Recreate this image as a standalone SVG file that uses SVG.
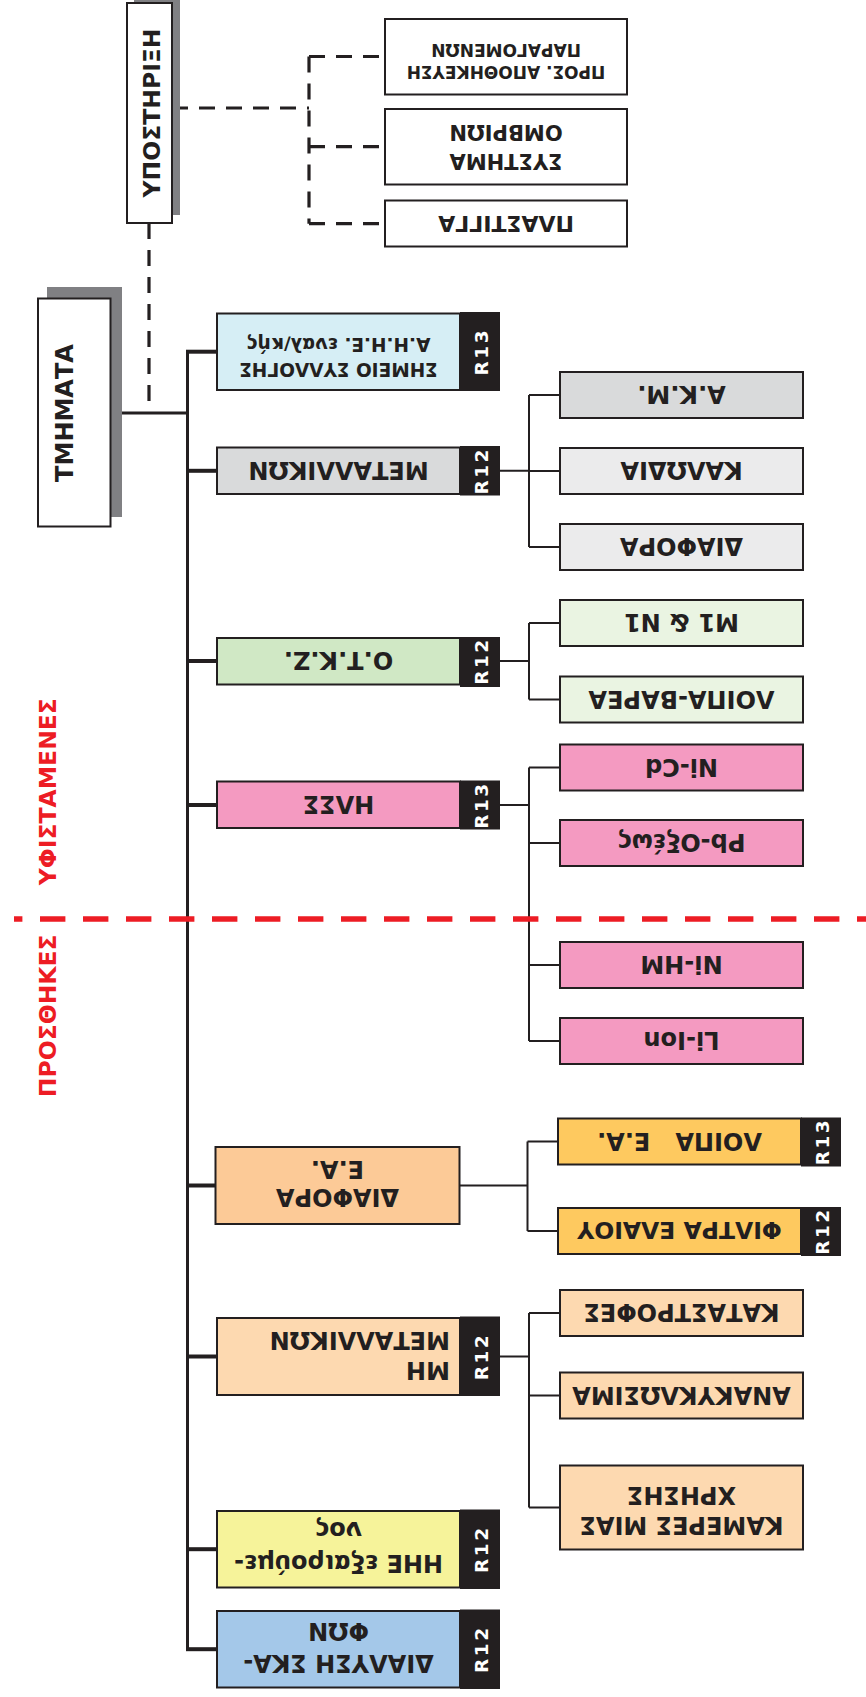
<svg xmlns="http://www.w3.org/2000/svg" width="866" height="1697" viewBox="0 0 866 1697">
<style>
.bx{stroke:#231f20;stroke-width:2}
.tab{fill:#231f20}
.shadow{fill:#808083}
.t{font-family:"DejaVu Sans","Liberation Sans",sans-serif;font-weight:bold;fill:#231f20;text-anchor:middle}
.tt{font-family:"DejaVu Sans","Liberation Sans",sans-serif;font-weight:bold;fill:#ffffff;text-anchor:middle;font-size:18.5px;letter-spacing:2.5px}
.f24{font-size:24px}
.ln{stroke:#231f20;fill:none}
.dash{stroke:#231f20;stroke-width:3.2;stroke-dasharray:16 11;fill:none}
</style>
<rect width="866" height="1697" fill="#ffffff"/>

<g id="connectors">
  <line class="dash" x1="172" y1="108" x2="309" y2="108"/>
  <line class="dash" x1="309" y1="56.5" x2="309" y2="223.7"/>
  <line class="dash" x1="309" y1="56.5" x2="385" y2="56.5"/>
  <line class="dash" x1="309" y1="146.7" x2="385" y2="146.7"/>
  <line class="dash" x1="309" y1="223.7" x2="385" y2="223.7"/>
  <line class="dash" x1="149" y1="223" x2="149" y2="413"/>
  <line class="ln" stroke-width="3" x1="110.5" y1="413" x2="187.5" y2="413"/>
  <line class="ln" stroke-width="3" x1="187.5" y1="351.7" x2="187.5" y2="1649.2"/>
  <g class="ln" stroke-width="4">
    <line x1="186" y1="351.7" x2="217" y2="351.7"/>
    <line x1="187.5" y1="470.8" x2="217" y2="470.8"/>
    <line x1="187.5" y1="661" x2="217" y2="661"/>
    <line x1="187.5" y1="805" x2="217" y2="805"/>
    <line x1="187.5" y1="1185.5" x2="215.5" y2="1185.5"/>
    <line x1="187.5" y1="1356.5" x2="217" y2="1356.5"/>
    <line x1="187.5" y1="1549.2" x2="217" y2="1549.2"/>
    <line x1="186" y1="1649.2" x2="217" y2="1649.2"/>
  </g>
  <g class="ln" stroke-width="2">
    <path d="M500 470.8H529M529 395V547M529 395H560M529 471H560M529 547H560"/>
    <path d="M500 661H529M529 623V699.5M529 623H560M529 699.5H560"/>
    <path d="M500 805H529M529 767.5V1041M529 767.5H560M529 843H560M529 965H560M529 1041H560"/>
    <path d="M459.5 1185.5H527.5M527.5 1141.5V1231M527.5 1141.5H558M527.5 1231H558"/>
    <path d="M500 1356.5H529M529 1313V1507.5M529 1313H560M529 1395.5H560M529 1507.5H560"/>
  </g>
</g>

<g id="n-ypostirixi">
  <rect class="shadow" x="134" y="-8" width="46" height="223"/>
  <rect class="bx" x="127" y="3" width="45" height="220" fill="#ffffff"/>
  <text class="t" font-size="23.5" x="151" y="121.5" transform="rotate(-90 151 113)">ΥΠΟΣΤΗΡΙΞΗ</text>
</g>
<g id="n-apothikeusi">
  <rect class="bx" x="385" y="19" width="242" height="75.5" fill="#ffffff"/>
  <g transform="rotate(180 506 56.5)">
    <text class="t" font-size="17" x="506" y="46.8">ΠΡΟΣ. ΑΠΟΘΗΚΕΥΣΗ</text>
    <text class="t" font-size="17" x="506" y="69.2">ΠΑΡΑΓΟΜΕΝΩΝ</text>
  </g>
</g>
<g id="n-ombrion">
  <rect class="bx" x="385" y="109" width="242" height="75.5" fill="#ffffff"/>
  <g transform="rotate(180 506 146.7)">
    <text class="t" font-size="21" x="506" y="139.4">ΣΥΣΤΗΜΑ</text>
    <text class="t" font-size="21" x="506" y="168.4">ΟΜΒΡΙΩΝ</text>
  </g>
</g>
<g id="n-plastigga">
  <rect class="bx" x="385" y="200.5" width="242" height="46" fill="#ffffff"/>
  <g transform="rotate(180 506 223.7)">
    <text class="t" font-size="22" x="506" y="231.7">ΠΛΑΣΤΙΓΓΑ</text>
  </g>
</g>

<g id="n-tmimata">
  <rect class="shadow" x="47" y="287" width="75" height="230"/>
  <rect class="bx" x="38" y="298.5" width="72.5" height="228" fill="#ffffff"/>
  <text class="t" font-size="24" x="64" y="421.7" transform="rotate(-90 64 413)">ΤΜΗΜΑΤΑ</text>
</g>

<g id="n-simeio">
  <rect class="bx" x="217" y="313.5" width="243" height="76.5" fill="#d6eef5"/>
  <rect class="tab" x="460" y="312" width="40" height="79"/>
  <text class="tt" x="481" y="358.4" transform="rotate(-90 481 351.7)">R13</text>
  <g transform="rotate(180 338.5 351.7)">
    <text class="t" font-size="18.5" x="338.5" y="340">ΣΗΜΕΙΟ ΣΥΛΛΟΓΗΣ</text>
    <text class="t" font-size="18.5" x="338.5" y="365">Α.Η.Η.Ε. εναλ/κής</text>
  </g>
</g>
<g id="n-metallikon">
  <rect class="bx" x="217" y="447.5" width="243" height="46.5" fill="#d9dadb"/>
  <rect class="tab" x="460" y="446" width="40" height="49.5"/>
  <text class="tt" x="481" y="477.5" transform="rotate(-90 481 470.8)">R12</text>
  <g transform="rotate(180 338.5 470.8)"><text class="t f24" x="338.5" y="479.6">ΜΕΤΑΛΛΙΚΩΝ</text></g>
</g>
<g id="n-otkz">
  <rect class="bx" x="217" y="638" width="243" height="46.5" fill="#d0e8c5"/>
  <rect class="tab" x="460" y="637" width="40" height="50"/>
  <text class="tt" x="481" y="667.7" transform="rotate(-90 481 661)">R12</text>
  <g transform="rotate(180 338.5 661)"><text class="t f24" x="338.5" y="669.8">Ο.Τ.Κ.Ζ.</text></g>
</g>
<g id="n-ilss">
  <rect class="bx" x="217" y="781.5" width="243" height="46.5" fill="#f49ac1"/>
  <rect class="tab" x="460" y="780.5" width="40" height="49"/>
  <text class="tt" x="481" y="811.7" transform="rotate(-90 481 805)">R13</text>
  <g transform="rotate(180 338.5 805)"><text class="t f24" x="338.5" y="813.8">ΗΛΣΣ</text></g>
</g>
<g id="n-diafora-ea">
  <rect class="bx" x="215.5" y="1147" width="244" height="77" fill="#fcca97"/>
  <g transform="rotate(180 337.5 1185.5)">
    <text class="t f24" x="337.5" y="1182">ΔΙΑΦΟΡΑ</text>
    <text class="t f24" x="337.5" y="1210">Ε.Α.</text>
  </g>
</g>
<g id="n-mi-metallikon">
  <rect class="bx" x="217" y="1318" width="243" height="77" fill="#fdd9b0"/>
  <rect class="tab" x="460" y="1316.5" width="40" height="79.5"/>
  <text class="tt" x="481" y="1363.2" transform="rotate(-90 481 1356.5)">R12</text>
  <g transform="rotate(180 338.5 1356.5)">
    <text class="t f24" x="227" y="1351.5" style="text-anchor:start">ΜΗ</text>
    <text class="t f24" x="227" y="1381.5" style="text-anchor:start">ΜΕΤΑΛΛΙΚΩΝ</text>
  </g>
</g>
<g id="n-hhe">
  <rect class="bx" x="217" y="1511" width="243" height="76.5" fill="#f6f39a"/>
  <rect class="tab" x="460" y="1509.5" width="40" height="79.5"/>
  <text class="tt" x="481" y="1555.9" transform="rotate(-90 481 1549.2)">R12</text>
  <g transform="rotate(180 338.5 1549.2)">
    <text class="t f24" x="338.5" y="1543.4">ΗΗΕ εξαιρούμε-</text>
    <text class="t f24" x="338.5" y="1576.7">νος</text>
  </g>
</g>
<g id="n-dialysi">
  <rect class="bx" x="217" y="1611" width="243" height="76.5" fill="#a4c8e9"/>
  <rect class="tab" x="460" y="1609.5" width="40" height="79.5"/>
  <text class="tt" x="481" y="1655.9" transform="rotate(-90 481 1649.2)">R12</text>
  <g transform="rotate(180 338.5 1649.2)">
    <text class="t f24" x="338.5" y="1643.3">ΔΙΑΛΥΣΗ ΣΚΑ-</text>
    <text class="t f24" x="338.5" y="1675">ΦΩΝ</text>
  </g>
</g>

<g id="n-akm">
  <rect class="bx" x="560" y="372" width="243" height="46" fill="#d9dadb"/>
  <g transform="rotate(180 681.5 395)"><text class="t f24" x="681.5" y="403.8">Α.Κ.Μ.</text></g>
</g>
<g id="n-kalodia">
  <rect class="bx" x="560" y="448" width="243" height="46" fill="#ebebec"/>
  <g transform="rotate(180 681.5 471)"><text class="t f24" x="681.5" y="479.8">ΚΑΛΩΔΙΑ</text></g>
</g>
<g id="n-diafora">
  <rect class="bx" x="560" y="524" width="243" height="46" fill="#ebebec"/>
  <g transform="rotate(180 681.5 547)"><text class="t f24" x="681.5" y="555.8">ΔΙΑΦΟΡΑ</text></g>
</g>
<g id="n-m1n1">
  <rect class="bx" x="560" y="600" width="243" height="46" fill="#eaf4e2"/>
  <g transform="rotate(180 681.5 623)"><text class="t f24" x="681.5" y="631.8">Μ1 &amp; Ν1</text></g>
</g>
<g id="n-loipa-varea">
  <rect class="bx" x="560" y="676.5" width="243" height="46" fill="#eaf4e2"/>
  <g transform="rotate(180 681.5 699.5)"><text class="t f24" x="681.5" y="708.3">ΛΟΙΠΑ-ΒΑΡΕΑ</text></g>
</g>
<g id="n-nicd">
  <rect class="bx" x="560" y="744.5" width="243" height="46" fill="#f49ac1"/>
  <g transform="rotate(180 681.5 767.5)"><text class="t f24" x="681.5" y="776.3">Ni-Cd</text></g>
</g>
<g id="n-pb">
  <rect class="bx" x="560" y="820" width="243" height="46" fill="#f49ac1"/>
  <g transform="rotate(180 681.5 843)"><text class="t f24" x="681.5" y="851.8">Pb-Οξέως</text></g>
</g>
<g id="n-nihm">
  <rect class="bx" x="560" y="942" width="243" height="46" fill="#f49ac1"/>
  <g transform="rotate(180 681.5 965)"><text class="t f24" x="681.5" y="973.8">Ni-HM</text></g>
</g>
<g id="n-liion">
  <rect class="bx" x="560" y="1018" width="243" height="46" fill="#f49ac1"/>
  <g transform="rotate(180 681.5 1041)"><text class="t f24" x="681.5" y="1049.8">Li-Ion</text></g>
</g>
<g id="n-loipa-ea">
  <rect class="bx" x="558" y="1118.5" width="243" height="46" fill="#fec95f"/>
  <rect class="tab" x="801" y="1117.5" width="40" height="49"/>
  <text class="tt" x="822" y="1148.2" transform="rotate(-90 822 1141.5)">R13</text>
  <g transform="rotate(180 679.5 1141.5)"><text class="t f24" x="679.5" y="1150.3" xml:space="preserve" style="white-space:pre">ΛΟΙΠΑ   Ε.Α.</text></g>
</g>
<g id="n-filtra">
  <rect class="bx" x="558" y="1208" width="243" height="46" fill="#fec95f"/>
  <rect class="tab" x="801" y="1207" width="40" height="49"/>
  <text class="tt" x="822" y="1237.7" transform="rotate(-90 822 1231)">R12</text>
  <g transform="rotate(180 679.5 1231)"><text class="t" font-size="23.5" x="679.5" y="1239.6">ΦΙΛΤΡΑ ΕΛΑΙΟΥ</text></g>
</g>
<g id="n-katastrofes">
  <rect class="bx" x="560" y="1290" width="243" height="46" fill="#fdd9b0"/>
  <g transform="rotate(180 681.5 1313)"><text class="t f24" x="681.5" y="1321.8">ΚΑΤΑΣΤΡΟΦΕΣ</text></g>
</g>
<g id="n-anakyklosima">
  <rect class="bx" x="560" y="1372.5" width="243" height="46" fill="#fdd9b0"/>
  <g transform="rotate(180 681.5 1395.5)"><text class="t f24" x="681.5" y="1404.3">ΑΝΑΚΥΚΛΩΣΙΜΑ</text></g>
</g>
<g id="n-kameres">
  <rect class="bx" x="560" y="1465.5" width="243" height="84" fill="#fdd9b0"/>
  <g transform="rotate(180 681.5 1507.5)">
    <text class="t f24" x="681.5" y="1498.3">ΚΑΜΕΡΕΣ ΜΙΑΣ</text>
    <text class="t f24" x="681.5" y="1528.3">ΧΡΗΣΗΣ</text>
  </g>
</g>

<g id="separator">
  <line x1="14" y1="919" x2="866" y2="919" stroke="#ed1c24" stroke-width="5.5" stroke-dasharray="25.4 17.6" stroke-dashoffset="17"/>
  <text class="t" font-size="23.5" x="47" y="800.3" transform="rotate(-90 47 791.7)" style="fill:#ed1c24">ΥΦΙΣΤΑΜΕΝΕΣ</text>
  <text class="t" font-size="23.5" x="47" y="1024.4" transform="rotate(-90 47 1015.8)" style="fill:#ed1c24">ΠΡΟΣΘΗΚΕΣ</text>
</g>
</svg>
